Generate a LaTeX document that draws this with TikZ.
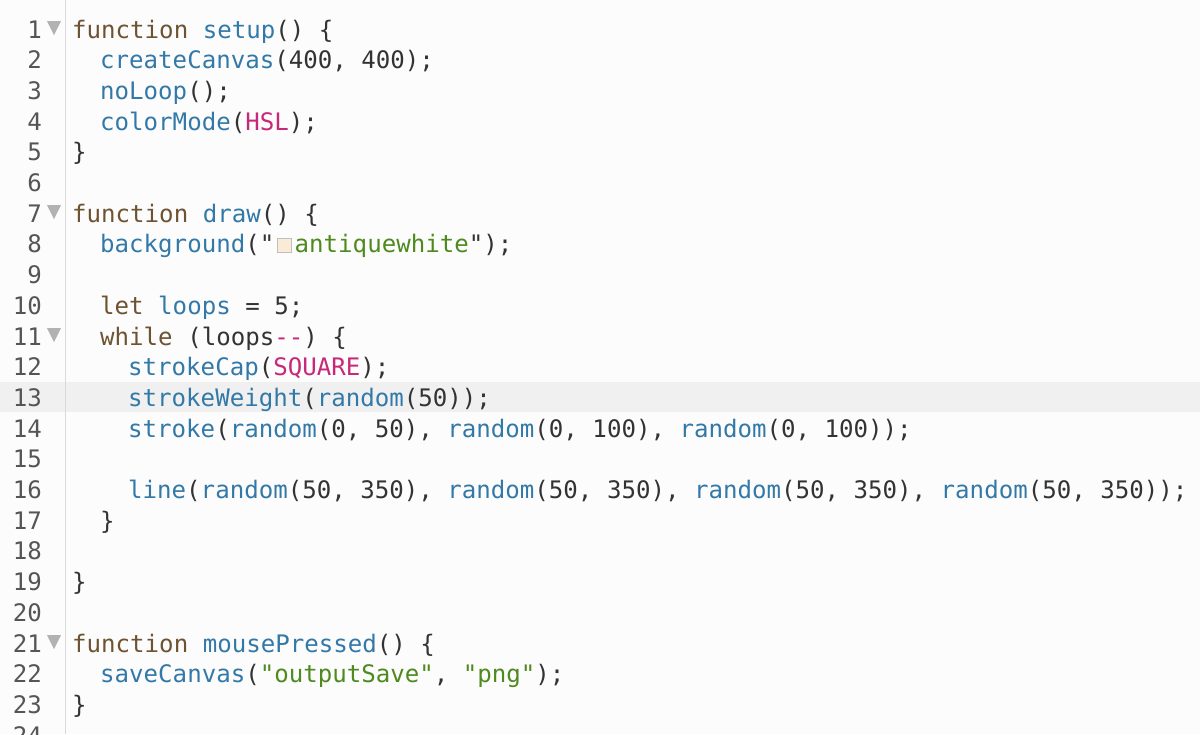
\documentclass[tikz,border=0pt]{standalone}
\usepackage{fontspec}
\newfontfamily\codefont{DejaVu Sans Mono}
\usepackage{xcolor}
\definecolor{kwbrown}{HTML}{6E5332}
\definecolor{fnblue}{HTML}{3379A8}
\definecolor{strgreen}{HTML}{4E8A1E}
\definecolor{cstpink}{HTML}{C7297A}
\definecolor{plain}{HTML}{333333}
\definecolor{gutter}{HTML}{555555}
\definecolor{awhite}{HTML}{FAEBD7}
\newcommand{\kw}[1]{\textcolor{kwbrown}{#1}}
\newcommand{\fn}[1]{\textcolor{fnblue}{#1}}
\newcommand{\str}[1]{\textcolor{strgreen}{#1}}
\newcommand{\cst}[1]{\textcolor{cstpink}{#1}}
\usetikzlibrary{positioning}

\begin{document}
\begin{tikzpicture}[x=1pt,y=-1pt,
    code/.style={anchor=base west, inner sep=0pt, text=plain,
      font=\codefont\fontsize{24.1}{28}\selectfont},
    lnum/.style={anchor=base east, inner sep=0pt, text=gutter,
      font=\codefont\fontsize{24.1}{28}\selectfont},
    fold/.style={fill=black!30, draw=none}]
			\useasboundingbox (0,0) rectangle (1200,734);
			\clip (0,0) rectangle (1200,734);
			\fill[black!1] (0,0) rectangle (1200,734);
			\def\pitch{30.7}
			\def\base{38}

			% highlighted line
			\fill[black!6] (0,382) rectangle (1200,412);
			\draw[black!15, line width=1pt] (65,0) -- (65,734);

			% line numbers
			\foreach \n in {1,...,24}
				\node[lnum] (n\n) at (42,{\base+\pitch*(\n-1)}) {\n};

			% fold markers
			\foreach \n in {1,7,11,21}
				\fill[fold] (47,{\base+\pitch*(\n-1)-17}) -- ++(14,0) -- ++(-7,14) -- cycle;

			% code lines
			\node[code] (l1) at (72,{\base}) {\kw{function} \fn{setup}() \{};
			\node[code] (l2) at (100,{\base+\pitch}) {\fn{createCanvas}(400, 400);};
			\node[code] (l3) at (100,{\base+\pitch*2}) {\fn{noLoop}();};
			\node[code] (l4) at (100,{\base+\pitch*3}) {\fn{colorMode}(\cst{HSL});};
			\node[code] (l5) at (72,{\base+\pitch*4}) {\}};
			\node[code] (l7) at (72,{\base+\pitch*6}) {\kw{function} \fn{draw}() \{};
			\node[code] (l8) at (100,{\base+\pitch*7}) {\fn{background}("};
			\fill[awhite, draw=black!25, line width=0.6pt] ([xshift=3pt]l8.base east) ++(0,-1) rectangle ++(14,-14);
			\node[code, right=20pt of l8.base east, anchor=base west] (l8b) {\str{antiquewhite}");};
			\node[code] (l10) at (100,{\base+\pitch*9}) {\kw{let} \fn{loops} = 5;};
			\node[code] (l11) at (100,{\base+\pitch*10}) {\kw{while} (loops\cst{-{}-}) \{};
			\node[code] (l12) at (128,{\base+\pitch*11}) {\fn{strokeCap}(\cst{SQUARE});};
			\node[code] (l13) at (128,{\base+\pitch*12}) {\fn{strokeWeight}(\fn{random}(50));};
			\node[code] (l14) at (128,{\base+\pitch*13}) {\fn{stroke}(\fn{random}(0, 50), \fn{random}(0, 100), \fn{random}(0, 100));};
			\node[code] (l16) at (128,{\base+\pitch*15}) {\fn{line}(\fn{random}(50, 350), \fn{random}(50, 350), \fn{random}(50, 350), \fn{random}(50, 350));};
			\node[code] (l17) at (100,{\base+\pitch*16}) {\}};
			\node[code] (l19) at (72,{\base+\pitch*18}) {\}};
			\node[code] (l21) at (72,{\base+\pitch*20}) {\kw{function} \fn{mousePressed}() \{};
			\node[code] (l22) at (100,{\base+\pitch*21}) {\fn{saveCanvas}(\str{"outputSave"}, \str{"png"});};
			\node[code] (l23) at (72,{\base+\pitch*22}) {\}};

		\end{tikzpicture}
\end{document}
